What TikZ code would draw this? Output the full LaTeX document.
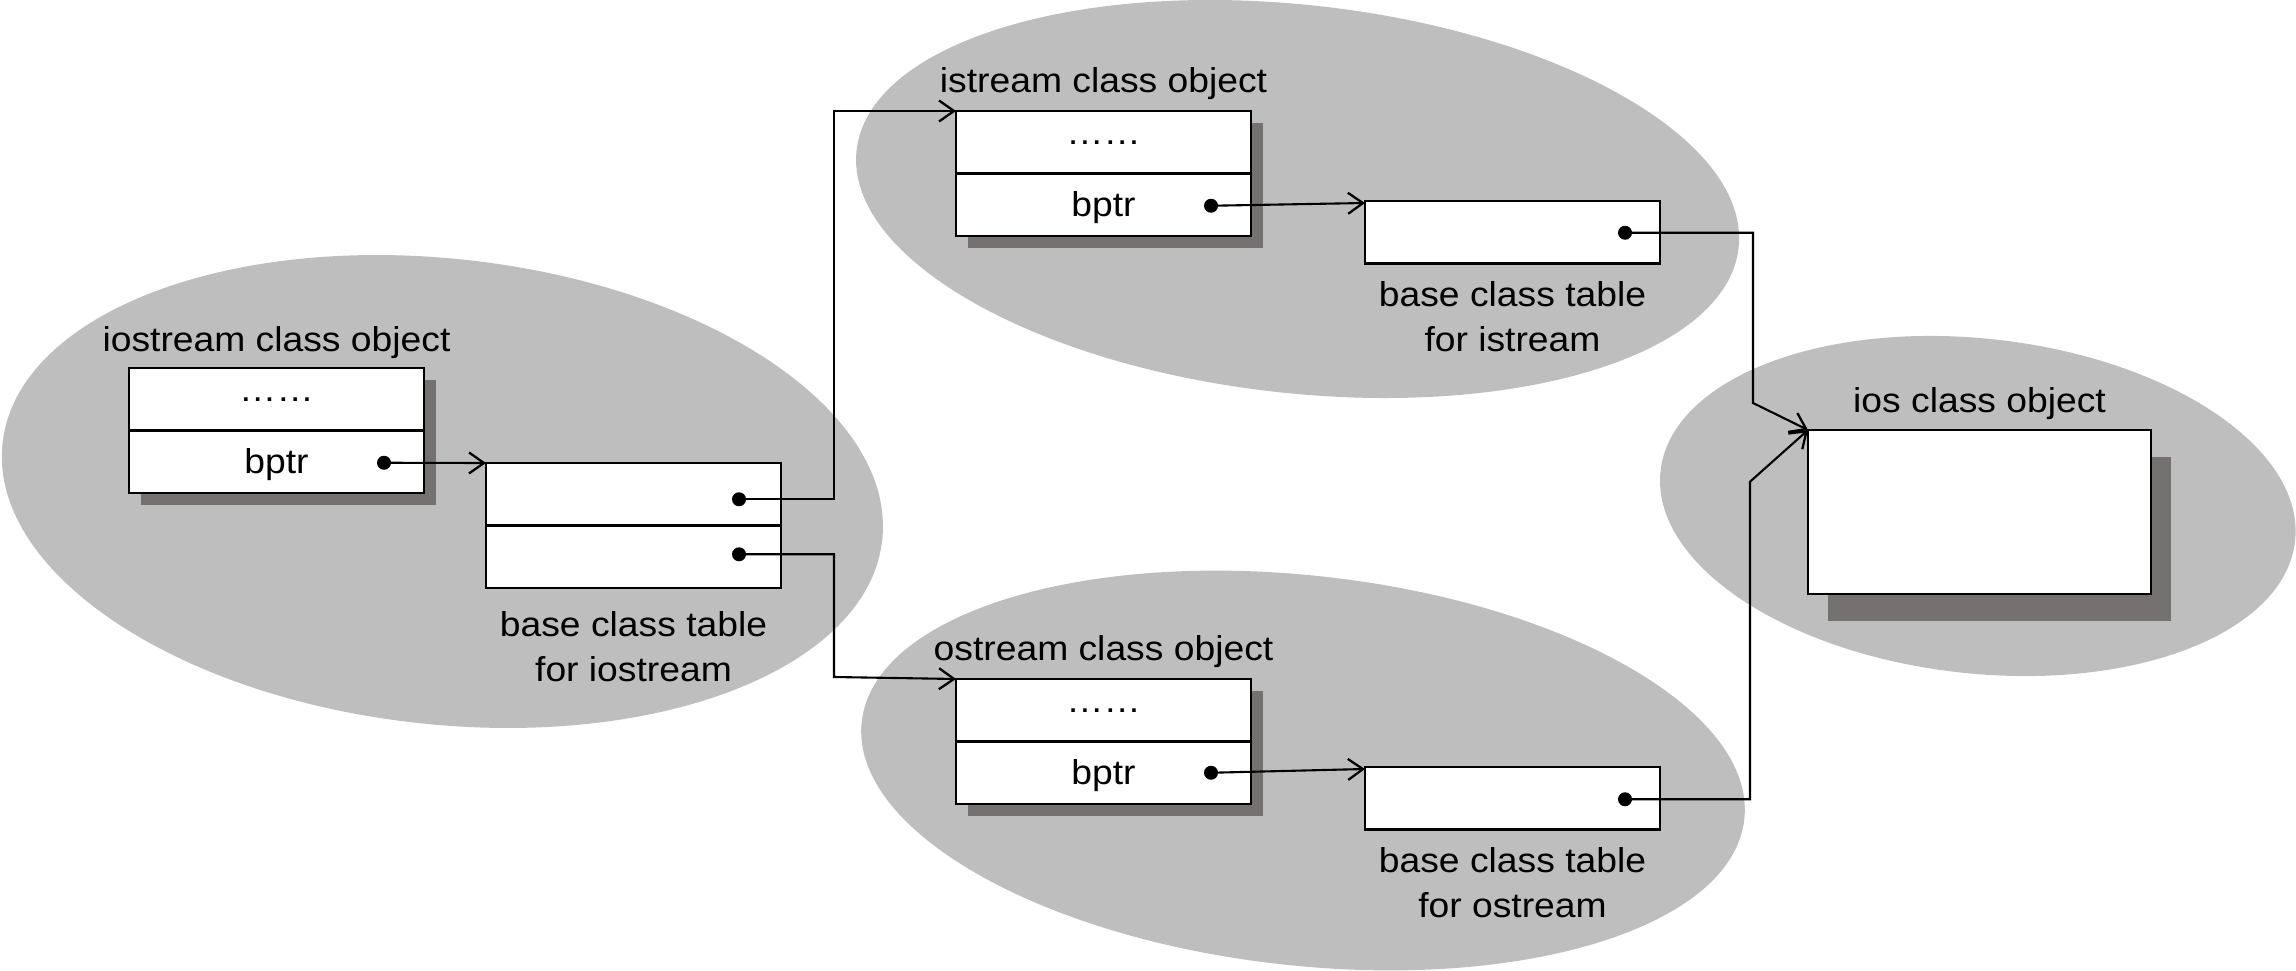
\documentclass[tikz,border=0pt]{standalone}
\usepackage{fontspec}
\setmainfont{Liberation Sans}[FakeStretch=1.08]
\usetikzlibrary{arrows.meta,calc,backgrounds}
\definecolor{ellgray}{HTML}{BEBEBE}
\definecolor{shadowgray}{HTML}{767171}
\begin{document}
\begin{tikzpicture}[x=1pt,y=-1pt,
  every node/.style={font=\fontsize{34.5}{45}\selectfont},
  cell/.style={draw, line width=2.7pt, fill=white, minimum width=295pt, minimum height=62.5pt, inner sep=0pt, outer sep=0pt},
  txtcell/.style={cell, text height=25pt, text depth=2pt},
  lbl/.style={inner sep=0pt, anchor=base},
  pdot/.style={circle, fill=black, minimum size=14pt, inner sep=0pt, outer sep=0pt},
  conn/.style={line width=2.1pt},
  arr/.style={conn, -{Straight Barb[length=15pt,width=21pt,line width=2.3pt]}},
  ell/.style={fill=ellgray},
  shade/.style={fill=shadowgray}]
\useasboundingbox (0,0) rectangle (2296,971);

% boxes
\node[cell, anchor=north west] (ioA) at (129,368) {……};
\node[txtcell, anchor=north] (ioB) at (ioA.south) {bptr};
\node[cell, anchor=north west] (ioT1) at (486,463) {};
\node[cell, anchor=north] (ioT2) at (ioT1.south) {};
\node[cell, anchor=north west] (isA) at (956,111) {……};
\node[txtcell, anchor=north] (isB) at (isA.south) {bptr};
\node[cell, anchor=north west] (isT) at (1365,201) {};
\node[cell, anchor=north west] (osA) at (956,679) {……};
\node[txtcell, anchor=north] (osB) at (osA.south) {bptr};
\node[cell, anchor=north west] (osT) at (1365,767) {};
\node[cell, anchor=north west, minimum width=343pt, minimum height=164pt] (ios) at (1808,430) {};

% pointer dots
\node[pdot] (ioBd) at ($(ioB.east)+(-40,1)$) {};
\node[pdot] (ioT1d) at ($(ioT1.east)+(-42,5)$) {};
\node[pdot] (ioT2d) at ($(ioT2.east)+(-42,-2.5)$) {};
\node[pdot] (isBd) at ($(isB.east)+(-40,1)$) {};
\node[pdot] (isTd) at ($(isT.east)+(-35,0.5)$) {};
\node[pdot] (osBd) at ($(osB.east)+(-40,0)$) {};
\node[pdot] (osTd) at ($(osT.east)+(-35,1)$) {};

% labels
\node[lbl] (ioL) at ($(ioA.north)+(0,-17)$) {iostream class object};
\node[lbl] (isL) at ($(isA.north)+(0,-18.7)$) {istream class object};
\node[lbl] (osL) at ($(osA.north)+(0,-19)$) {ostream class object};
\node[lbl] (iosL) at ($(ios.north)+(0,-17.6)$) {ios class object};
\node[lbl] (ioTL1) at ($(ioT2.south)+(0,48)$) {base class table};
\node[lbl] (ioTL2) at ($(ioTL1.base)+(0,45)$) {for iostream};
\node[lbl] (isTL1) at ($(isT.south)+(0,43)$) {base class table};
\node[lbl] (isTL2) at ($(isTL1.base)+(0,45)$) {for istream};
\node[lbl] (osTL1) at ($(osT.south)+(0,43)$) {base class table};
\node[lbl] (osTL2) at ($(osTL1.base)+(0,45)$) {for ostream};

% connectors
\coordinate (jx) at (834,0);
\coordinate (k1) at (1753,403);
\coordinate (k2) at (1750,481.7);
\draw[arr] (ioBd.center) -- (ioT1.north west);
\draw[arr] (ioT1d.center) -| (jx |- isA.north west) -- (isA.north west);
\draw[arr] (ioT2d.center) -| ($(jx |- osA.north west)+(0,-2)$) -- (osA.north west);
\draw[arr] (isBd.center) -- ($(isT.north west)+(0,2)$);
\draw[arr] (osBd.center) -- ($(osT.north west)+(0,2)$);
\draw[arr] (isTd.center) -| (k1) -- (ios.north west);
\draw[arr] (osTd.center) -| (k2) -- (ios.north west);

% background: ellipses and shadows
\begin{scope}[on background layer]
\fill[ell, rotate around={-6.3:(442.4,491.5)}] (442.4,491.5) ellipse [x radius=442.5, y radius=232.8];
\fill[ell, rotate around={-6.3:(1297.6,199)}] (1297.6,199) ellipse [x radius=443.7, y radius=194.1];
\fill[ell, rotate around={-6.3:(1303,770.5)}] (1303,770.5) ellipse [x radius=444, y radius=195];
\fill[ell, rotate around={-6.3:(1977.8,506)}] (1977.8,506) ellipse [x radius=319.2, y radius=167.4];
\fill[shade] ($(ioA.north west)+(12,12)$) rectangle ($(ioB.south east)+(12,12)$);
\fill[shade] ($(isA.north west)+(12,12)$) rectangle ($(isB.south east)+(12,12)$);
\fill[shade] ($(osA.north west)+(12,12)$) rectangle ($(osB.south east)+(12,12)$);
\fill[shade] ($(ios.north west)+(20,27)$) rectangle ($(ios.south east)+(20,27)$);
\end{scope}
\end{tikzpicture}
\end{document}
